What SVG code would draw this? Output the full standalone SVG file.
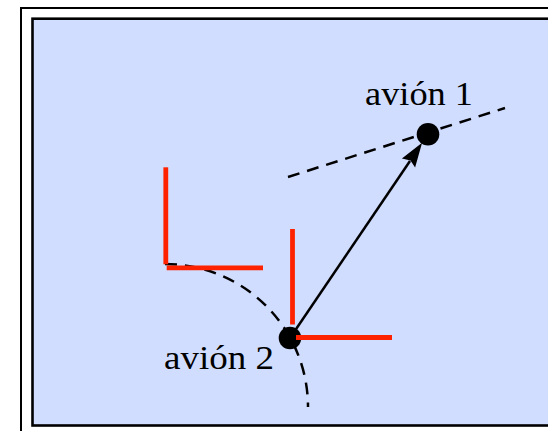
<svg xmlns="http://www.w3.org/2000/svg" width="548" height="431" viewBox="0 0 548 431">
  <style>
    .lbl { font-family: "Liberation Serif", "Times New Roman", serif; font-size: 33px; fill: #000; }
    .dash { fill: none; stroke: #000; stroke-width: 2.5; stroke-dasharray: 12 8; }
    .red { fill: none; stroke: #ff2200; stroke-width: 4.8; }
    .dot { fill: #000; }
  </style>
  <rect width="548" height="431" fill="#ffffff"/>
  <g id="frame">
    <rect x="21" y="8" width="600" height="500" fill="none" stroke="#000" stroke-width="2"/>
    <rect x="32.5" y="18.7" width="600" height="406.8" fill="#d1ddff" stroke="#000" stroke-width="2.6"/>
  </g>
  <g id="connectors">
    <path class="dash" d="M288,177 L505,108"/>
    <path class="dash" d="M165,264 A143,143 0 0 1 308,407"/>
    <line x1="290" y1="338" x2="410" y2="161" stroke="#000" stroke-width="2.5"/>
    <polygon points="422.1,142.7 401.9,158.4 410.5,160.5 415.1,167.4" fill="#000"/>
  </g>
  <g id="plane1">
    <circle class="dot" cx="428" cy="134.3" r="11.3"/>
    <text class="lbl" x="365" y="105" textLength="108" lengthAdjust="spacingAndGlyphs">avión 1</text>
  </g>
  <g id="plane2">
    <circle class="dot" cx="290" cy="338" r="11.3"/>
    <text class="lbl" x="164" y="369" textLength="110" lengthAdjust="spacingAndGlyphs">avión 2</text>
  </g>
  <g id="axes1">
    <line class="red" x1="165.8" y1="167.3" x2="165.8" y2="264.3"/>
    <line class="red" x1="166.7" y1="267.8" x2="263" y2="267.8"/>
  </g>
  <g id="axes2">
    <line class="red" x1="292.5" y1="229" x2="292.5" y2="324.5"/>
    <line class="red" x1="296" y1="337.5" x2="392" y2="337.5"/>
  </g>
</svg>
